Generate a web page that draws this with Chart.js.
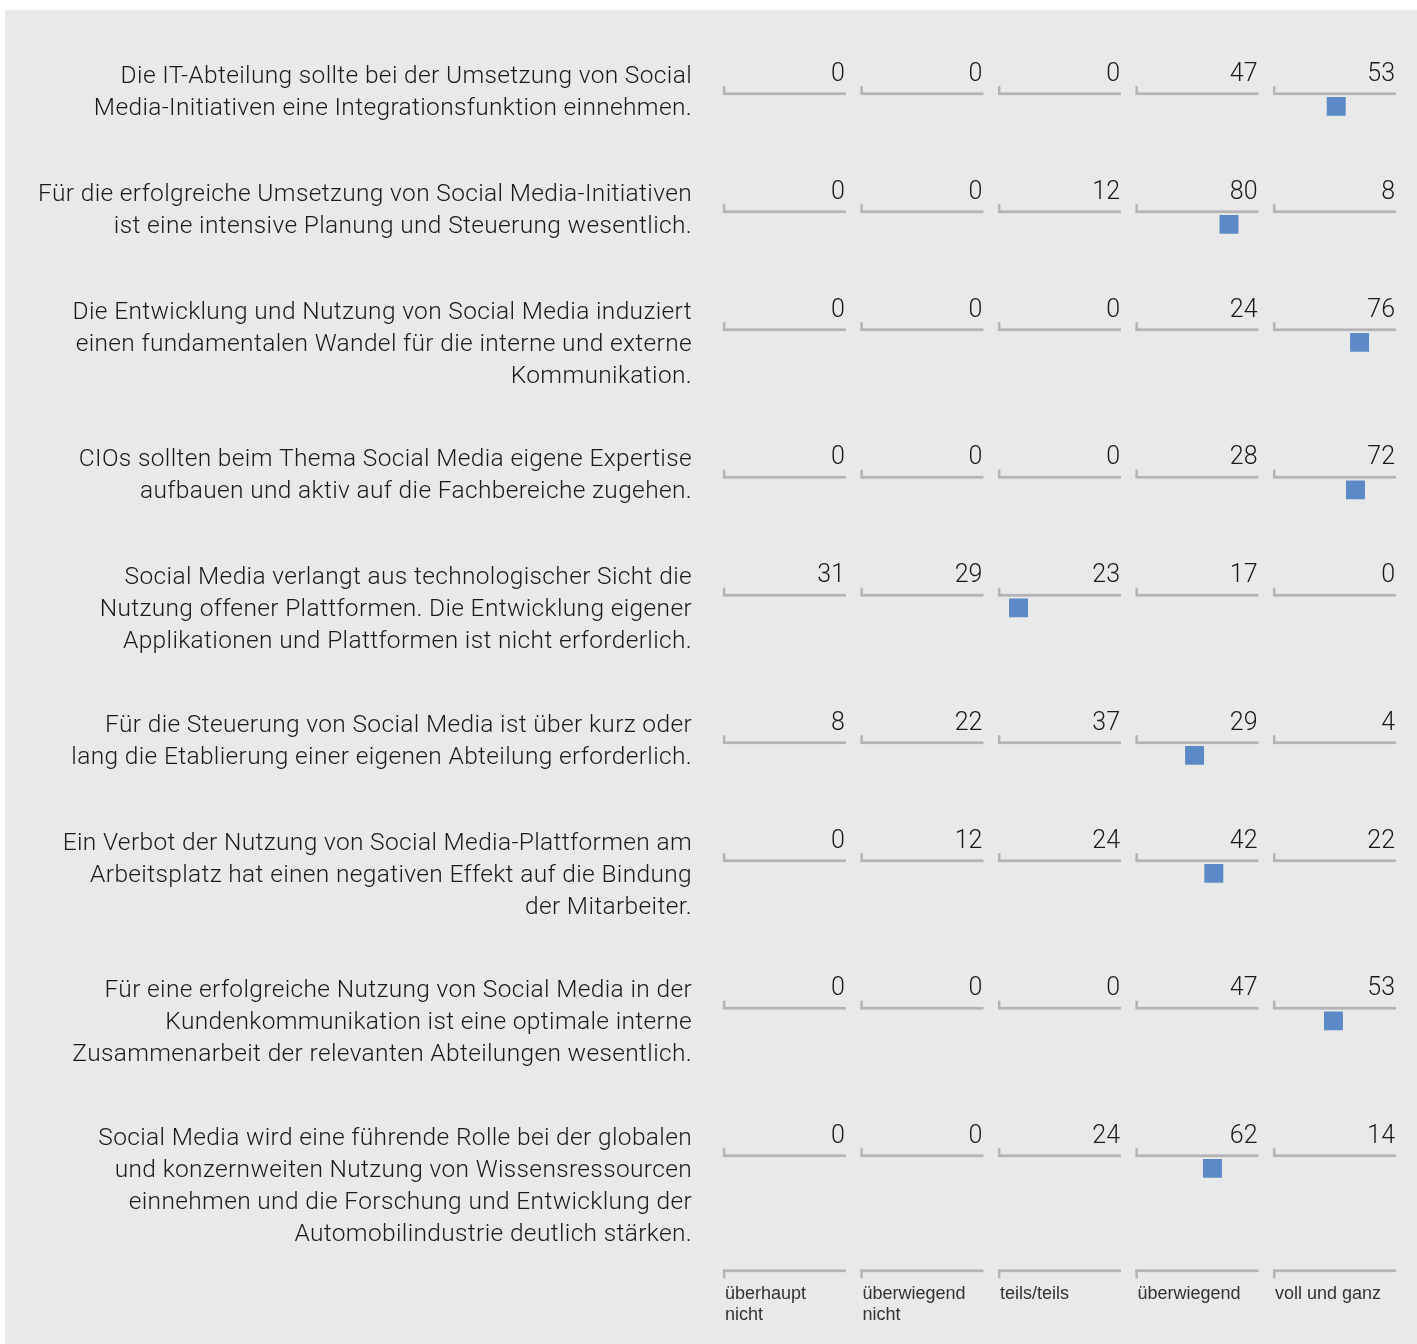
<!DOCTYPE html>
<html lang="de">
<head>
<meta charset="utf-8">
<title>Social Media – Zustimmung</title>
<script src="https://cdn.jsdelivr.net/npm/chart.js@4/dist/chart.umd.min.js"></script>
<style>
  html, body { margin: 0; padding: 0; background: #fff; }
  #flaeche {
    position: absolute; left: 5px; top: 10px;
    width: 1412px; height: 1334px; background: #e9e9e9;
  }
  #rahmen { position: absolute; left: 0; top: 0; width: 1417px; height: 1344px; }
</style>
</head>
<body>
<div id="flaeche"></div>
<div id="rahmen"><canvas id="grafik"></canvas></div>
<script>
// Aussagen (jeweils zeilenweise umbrochen)
const aussagen = [
    ['Die IT-Abteilung sollte bei der Umsetzung von Social', 'Media-Initiativen eine Integrationsfunktion einnehmen.'],
    ['Für die erfolgreiche Umsetzung von Social Media-Initiativen', 'ist eine intensive Planung und Steuerung wesentlich.'],
    ['Die Entwicklung und Nutzung von Social Media induziert', 'einen fundamentalen Wandel für die interne und externe', 'Kommunikation.'],
    ['CIOs sollten beim Thema Social Media eigene Expertise', 'aufbauen und aktiv auf die Fachbereiche zugehen.'],
    ['Social Media verlangt aus technologischer Sicht die', 'Nutzung offener Plattformen. Die Entwicklung eigener', 'Applikationen und Plattformen ist nicht erforderlich.'],
    ['Für die Steuerung von Social Media ist über kurz oder', 'lang die Etablierung einer eigenen Abteilung erforderlich.'],
    ['Ein Verbot der Nutzung von Social Media-Plattformen am', 'Arbeitsplatz hat einen negativen Effekt auf die Bindung', 'der Mitarbeiter.'],
    ['Für eine erfolgreiche Nutzung von Social Media in der', 'Kundenkommunikation ist eine optimale interne', 'Zusammenarbeit der relevanten Abteilungen wesentlich.'],
    ['Social Media wird eine führende Rolle bei der globalen', 'und konzernweiten Nutzung von Wissensressourcen', 'einnehmen und die Forschung und Entwicklung der', 'Automobilindustrie deutlich stärken.']
];

// Antwortstufen (Achsenbeschriftung unten)
const stufen = [
    ['überhaupt', 'nicht'],
    ['überwiegend', 'nicht'],
    ['teils/teils'],
    ['überwiegend'],
    ['voll und ganz']
];

// Anteile in Prozent je Stufe
const ueberhauptNicht   = [0, 0, 0, 0, 31, 8, 0, 0, 0];
const ueberwiegendNicht = [0, 0, 0, 0, 29, 22, 12, 0, 0];
const teilsTeils        = [0, 12, 0, 0, 23, 37, 24, 0, 24];
const ueberwiegend      = [47, 80, 24, 28, 17, 29, 42, 47, 62];
const vollUndGanz       = [53, 8, 76, 72, 0, 4, 22, 53, 14];

// Mittelwert je Aussage (Skala 0–5)
const mittelwerte = [4.51, 3.73, 4.68, 4.65, 2.20, 3.48, 3.62, 4.49, 3.61];

const reihen = [ueberhauptNicht, ueberwiegendNicht, teilsTeils, ueberwiegend, vollUndGanz];

// vertikale Position jeder Zeile: Textzeilen + Abstand
const zeilenPos = [];
aussagen.reduce((pos, zeilen) => { zeilenPos.push(pos); return pos + zeilen.length + 2; }, 0);
const achsenPos = zeilenPos[zeilenPos.length - 1] + 3.9;

const SCHRIFT = '"Roboto", "Liberation Sans", sans-serif';
const LINIE = '#b4b4b8';

const zeilenPlugin = {
    id: 'zeilen',
    beforeDatasetsDraw(chart) {
        const { ctx, scales: { x, y } } = chart;
        const textRechts = x.left - 24;
        ctx.save();

        aussagen.forEach((zeilen, i) => {
            const yl = y.getPixelForValue(zeilenPos[i]);

            ctx.font = `300 24.5px ${SCHRIFT}`;
            ctx.letterSpacing = '0.35px';
            ctx.fillStyle = '#1a1a1a';
            ctx.textAlign = 'right';
            ctx.textBaseline = 'alphabetic';
            zeilen.forEach((t, j) => ctx.fillText(t, textRechts, yl - 11 + j * 32));
            ctx.letterSpacing = '0px';

            reihen.forEach((werte, k) => {
                const x0 = x.getPixelForValue(k + 0.05);
                const x1 = x.getPixelForValue(k + 0.945);
                ctx.fillStyle = LINIE;
                ctx.fillRect(x0, yl - 1.3, x1 - x0, 2.7);
                ctx.fillRect(x0, yl - 7.5, 2.5, 7.5);
                ctx.fillStyle = '#1a1a1a';
                ctx.font = `300 25px ${SCHRIFT}`;
                ctx.fillText(String(werte[i]), x1 - 1, yl - 13);
            });
        });

        // Skala unten
        const ya = y.getPixelForValue(achsenPos);
        stufen.forEach((zeilen, k) => {
            const x0 = x.getPixelForValue(k + 0.05);
            const x1 = x.getPixelForValue(k + 0.945);
            ctx.fillStyle = LINIE;
            ctx.fillRect(x0, ya - 1.3, x1 - x0, 2.7);
            ctx.fillRect(x0, ya - 1.3, 2.5, 9);
            ctx.fillStyle = '#333';
            ctx.font = `18px "Liberation Sans", Arial, sans-serif`;
            ctx.textAlign = 'left';
            zeilen.forEach((t, j) => ctx.fillText(t, x0 + 2, ya + 28 + j * 21));
            ctx.textAlign = 'right';
        });

        ctx.restore();
    }
};

new Chart(document.getElementById('grafik'), {
    type: 'scatter',
    data: {
        datasets: [{
            label: 'Mittelwert',
            data: mittelwerte.map((m, i) => ({ x: m, y: zeilenPos[i] + 0.43 })),
            pointStyle: 'rect',
            pointRadius: 13.4,
            pointHoverRadius: 13.4,
            backgroundColor: '#5b8ac6',
            borderWidth: 0
        }]
    },
    options: {
        responsive: true,
        maintainAspectRatio: false,
        animation: false,
        layout: { padding: { left: 716, right: 11, top: 64.2, bottom: 70.3 } },
        plugins: { legend: { display: false }, tooltip: { enabled: false } },
        scales: {
            x: { type: 'linear', min: 0, max: 5, display: false },
            y: { type: 'linear', min: -1, max: 40, reverse: true, display: false }
        }
    },
    plugins: [zeilenPlugin]
});
</script>
</body>
</html>
